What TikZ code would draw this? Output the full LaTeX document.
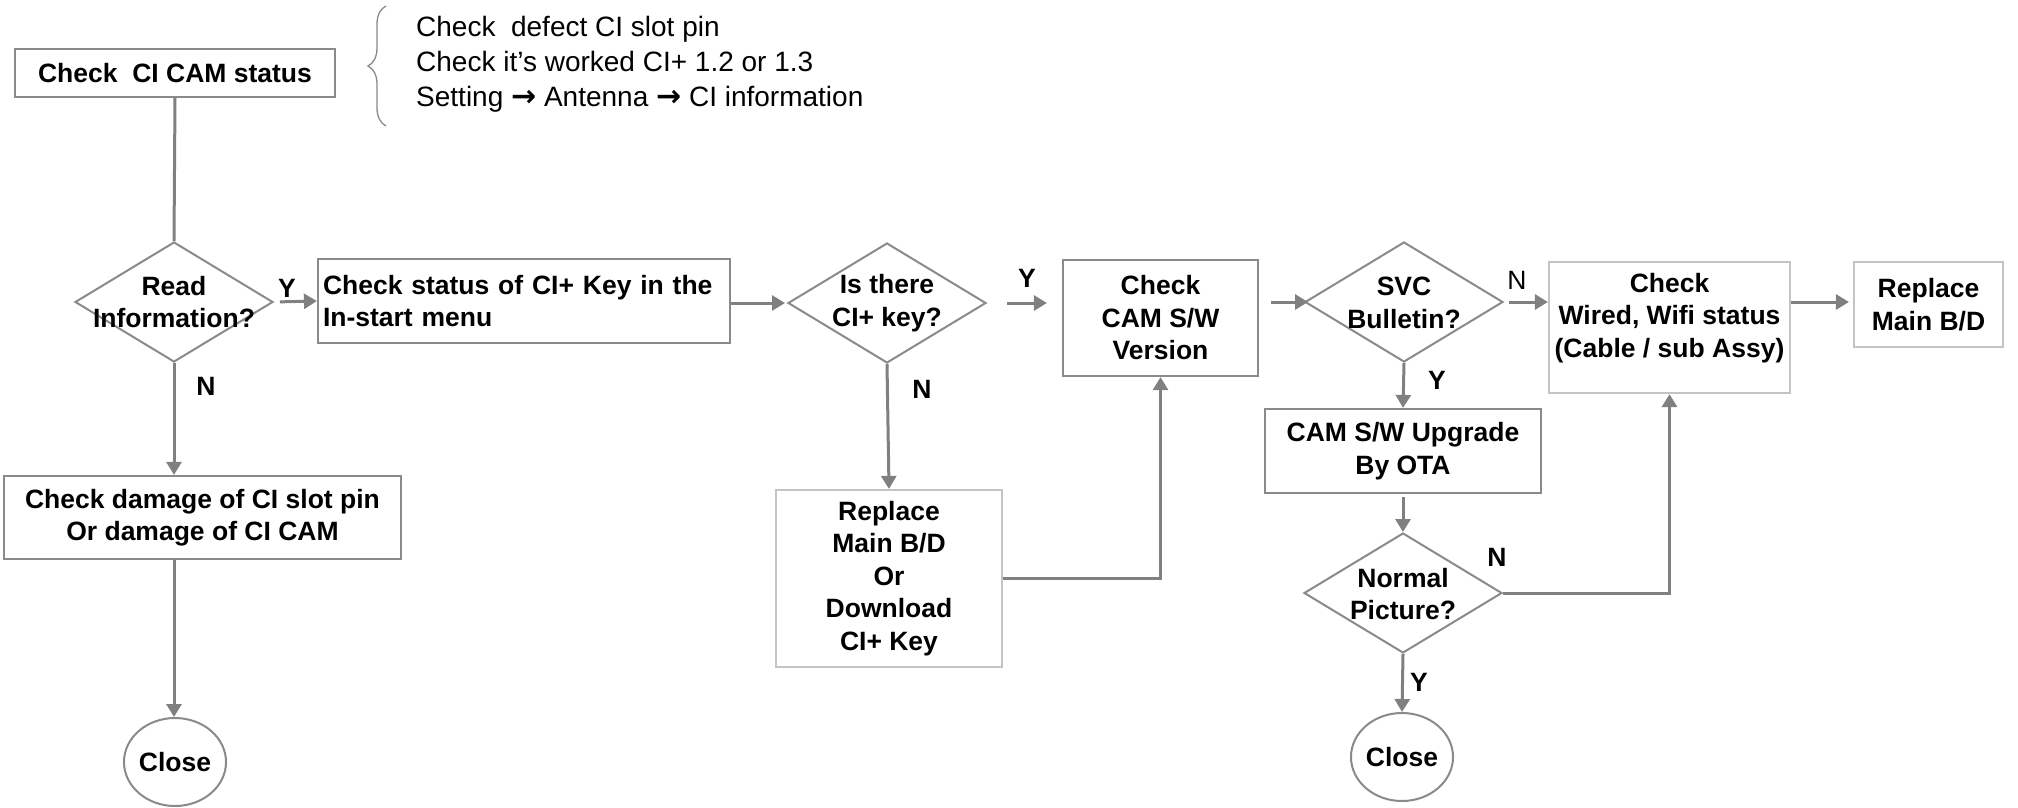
\documentclass[tikz,border=0pt]{standalone}
\usepackage{fontspec}
\setmainfont{Liberation Sans}
\newfontfamily\arrowfont{DejaVu Sans}
\usetikzlibrary{arrows.meta,shapes.geometric,decorations.pathreplacing}
\definecolor{linegray}{HTML}{808080}
\definecolor{boxgray}{HTML}{8A8A8A}
\definecolor{lightbox}{HTML}{C4C4C4}
\newcommand{\flowarrow}{{\arrowfont\bfseries\fontsize{30}{35}\selectfont →}}
\begin{document}
\begin{tikzpicture}[x=1pt,y=-1pt,
  every node/.style={font=\fontsize{26.5}{32.5}\selectfont\bfseries, text=black, align=center},
  box/.style={draw=boxgray, line width=2.2pt, inner sep=0pt},
  lbox/.style={draw=lightbox, line width=2.2pt, inner sep=0pt},
  dia/.style={draw=boxgray, line width=2pt, diamond, inner sep=0pt, minimum width=198pt, minimum height=120pt},
  circ/.style={draw=boxgray, line width=2pt, ellipse, inner sep=0pt, minimum width=95pt, minimum height=88pt},
  lbl/.style={inner sep=0pt},
  conn/.style={draw=linegray, line width=3pt},
  arr/.style={conn, -{Triangle[length=13pt,width=15pt]}}
]
\fill[white] (0,0) rectangle (2018,808);
\useasboundingbox (0,0) rectangle (2018,808);

% nodes
\node[box, minimum width=320pt, minimum height=48pt] (A) at (175,73) {Check~ CI CAM status};
\node[dia] (dA) at (174,302) {};
\node (dAt) at (174,302) {Read\\Information?};
\node[box, minimum width=412pt, minimum height=84pt, inner xsep=5pt, text width=402pt, align=left] (B) at (524,301) {Check status of CI+ Key in the\\In-start menu};
\node[dia] (dC) at (887,303) {};
\node (dCt) at (887,303) {Is there\\CI+ key?};
\node[box, minimum width=195pt, minimum height=116pt] (D) at (1160.5,318) {Check\\CAM S/W\\Version};
\node[dia] (dE) at (1404,302) {};
\node (dEt) at (1404,303) {SVC\\Bulletin?};
\node[lbox, minimum width=241pt, minimum height=131pt] (F) at (1669.5,327.5) {};
\node (Ft) at (1669.5,318) {Check\\Wired, Wifi status\\(Cable / sub Assy)};
\node[lbox, minimum width=149pt, minimum height=85pt] (G) at (1928.5,304.5) {Replace\\Main B/D};
\node[box, minimum width=276pt, minimum height=84pt] (H) at (1403,451) {CAM S/W Upgrade\\By OTA};
\node[dia] (dI) at (1403,593) {};
\node (dIt) at (1403,594) {Normal\\Picture?};
\node[box, minimum width=397pt, minimum height=83pt] (J) at (202.5,517.5) {Check damage of CI slot pin\\Or damage of CI CAM};
\node[lbox, minimum width=226pt, minimum height=177pt] (K) at (889,578.5) {Replace\\Main B/D\\Or\\Download\\CI+ Key};
\node[circ] (X1) at (175,762) {Close};
\node[circ] (X2) at (1402,757) {Close};

% note with brace
\node[inner sep=0pt, anchor=west, align=left, font=\fontsize{28}{35}\selectfont] (note) at (416,64) {Check~ defect CI slot pin\\Check it’s worked CI+ 1.2 or 1.3\\Setting \flowarrow{} Antenna \flowarrow{} CI information};
\coordinate (brB) at (386,126);
\coordinate (brT) at (386,6);
\draw[draw=boxgray, line width=1.3pt, decorate, decoration={brace, amplitude=18pt}] (brB) -- (brT);

% connectors
\draw[conn] (A.south) -- (dA.north);
\draw[arr, shorten <=6pt] (dA.east) -- (B.west);
\draw[arr, shorten >=2pt] (dC.west -| B.east) -- (dC.west);
\draw[arr, shorten <=20pt, shorten >=15pt] (dC.east) -- (dC.east -| D.west);
\draw[arr, shorten <=12pt, shorten >=-4pt] (D.east |- dE.west) -- (dE.west);
\draw[arr, shorten <=5pt] (dE.east) -- (dE.east -| F.west);
\draw[arr, shorten >=4pt] (F.east |- dE.east) -- (dE.east -| G.west);
\draw[arr] (dE.south) -- (H.north);
\draw[arr, shorten <=3pt] (H.south) -- (dI.north);
\draw[arr] (dI.east) -| (F.south);
\draw[arr] (dI.south) -- (X2.north);
\draw[arr] (dA.south) -- (dA.south |- J.north);
\draw[arr] (dA.south |- J.south) -- (dA.south |- X1.north);
\draw[arr] (dC.south) -- (K.north);
\draw[arr] (K.east) -| (D.south);

% labels
\node[lbl] (yA) at (287,288) {Y};
\node[lbl] (nA) at (206,386) {N};
\node[lbl] (yC) at (1027,278) {Y};
\node[lbl] (nC) at (922,389) {N};
\node[lbl, font=\fontsize{26.5}{32.5}\selectfont] (nE) at (1517,280) {N};
\node[lbl] (yE) at (1437,380) {Y};
\node[lbl] (nI) at (1497,557) {N};
\node[lbl] (yI) at (1419,682) {Y};
\end{tikzpicture}
\end{document}
